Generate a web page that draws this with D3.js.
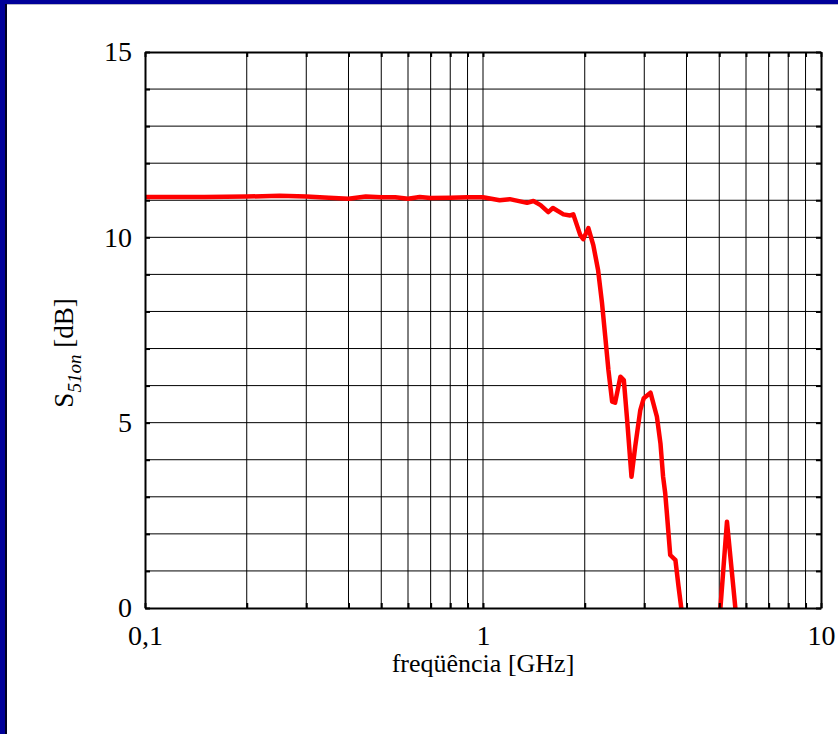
<!DOCTYPE html>
<html>
<head>
<meta charset="utf-8">
<script src="https://cdn.jsdelivr.net/npm/d3@7"></script>
<style>
    html, body { margin: 0; padding: 0; background: #fff; }
    svg { display: block; }
</style>
</head>
<body>
<div id="chart"></div>
<script>
// 频率 (GHz)
const freqGHz = [
    0.1, 0.15, 0.2, 0.25, 0.3, 0.35, 0.4, 0.45, 0.5, 0.55, 0.6, 0.65, 0.7, 0.8, 0.9, 1.0,
    1.12, 1.2, 1.35, 1.41, 1.48, 1.56, 1.61, 1.73, 1.81, 1.85, 1.94, 1.98, 2.05, 2.12,
    2.19, 2.25, 2.30, 2.35, 2.41, 2.46, 2.55, 2.61, 2.67, 2.75, 2.82, 2.92, 2.99, 3.13,
    3.27, 3.35, 3.41, 3.46, 3.50, 3.58, 3.71, 3.79, 3.86, 3.88,
    null,
    5.02, 5.04, 5.27, 5.58, 5.60
];

// S51on (dB)
const s51on = [
    11.09, 11.09, 11.10, 11.12, 11.10, 11.07, 11.04, 11.10, 11.08, 11.08, 11.04, 11.09, 11.06, 11.07, 11.08, 11.08,
    11.00, 11.03, 10.93, 10.98, 10.87, 10.68, 10.79, 10.62, 10.59, 10.62, 10.06, 9.95, 10.25, 9.79,
    9.12, 8.22, 7.32, 6.42, 5.57, 5.54, 6.24, 6.15, 5.07, 3.54, 4.35, 5.34, 5.66, 5.81,
    5.16, 4.44, 3.55, 3.10, 2.55, 1.43, 1.29, 0.57, 0.0, -0.2,
    null,
    -0.2, 0.0, 2.33, 0.0, -0.2
];

// 刻度
const xGridValues = [0.2, 0.3, 0.4, 0.5, 0.6, 0.7, 0.8, 0.9, 1, 2, 3, 4, 5, 6, 7, 8, 9];
const xTickValues = [0.1, 0.2, 0.3, 0.4, 0.5, 0.6, 0.7, 0.8, 0.9, 1, 2, 3, 4, 5, 6, 7, 8, 9, 10];
const xTickLabels = { 0.1: '0,1', 1: '1', 10: '10' };
const yTickValues = d3.range(0, 16);
const yTickLabels = [0, 5, 10, 15];

// 尺寸
const W = 838, H = 734;
const plot = { left: 145, right: 821, top: 52, bottom: 608 };
const FONT = '"Liberation Serif", "Times New Roman", serif';

const svg = d3.select('#chart').append('svg')
    .attr('width', W)
    .attr('height', H);

// 背景和蓝色边框
svg.append('rect').attr('width', W).attr('height', H).attr('fill', '#fff');
svg.append('rect').attr('x', 0).attr('y', 0).attr('width', W).attr('height', 4).attr('fill', '#000099');
svg.append('rect').attr('x', 0).attr('y', 4).attr('width', W).attr('height', 1).attr('fill', '#b8b8c8');
svg.append('rect').attr('x', 0).attr('y', 0).attr('width', 5).attr('height', H).attr('fill', '#000099');
svg.append('rect').attr('x', 5).attr('y', 4).attr('width', 2).attr('height', H).attr('fill', '#000022');

// 比例尺
const x = d3.scaleLog().domain([0.1, 10]).range([plot.left, plot.right]);
const y = d3.scaleLinear().domain([0, 15]).range([plot.bottom, plot.top]);

// 网格线
const grid = svg.append('g').attr('class', 'grid')
    .attr('stroke', '#000').attr('stroke-width', 1);

grid.selectAll('line.v').data(xGridValues).enter().append('line')
    .attr('class', 'v')
    .attr('x1', d => x(d)).attr('x2', d => x(d))
    .attr('y1', plot.top).attr('y2', plot.bottom);

grid.selectAll('line.h').data(yTickValues.slice(1, -1)).enter().append('line')
    .attr('class', 'h')
    .attr('x1', plot.left).attr('x2', plot.right)
    .attr('y1', d => y(d)).attr('y2', d => y(d));

// 曲线
svg.append('clipPath').attr('id', 'plot-clip')
    .append('rect')
    .attr('x', plot.left).attr('y', plot.top)
    .attr('width', plot.right - plot.left).attr('height', plot.bottom - plot.top);

const points = freqGHz.map((f, i) => ({ f, v: s51on[i] }));

const line = d3.line()
    .defined(d => d.f !== null && d.v !== null)
    .x(d => x(d.f))
    .y(d => y(d.v));

svg.append('path')
    .datum(points)
    .attr('clip-path', 'url(#plot-clip)')
    .attr('fill', 'none')
    .attr('stroke', '#ff0000')
    .attr('stroke-width', 4.5)
    .attr('stroke-linejoin', 'round')
    .attr('d', line);

// 坐标轴
function styleAxis(g) {
    g.select('.domain').attr('stroke', '#000').attr('stroke-width', 2);
    g.selectAll('.tick line').attr('stroke', '#000').attr('stroke-width', 2);
    g.selectAll('.tick text')
        .attr('font-family', FONT)
        .attr('font-size', 28)
        .attr('fill', '#000');
}

svg.append('g')
    .attr('transform', `translate(0,${plot.bottom})`)
    .call(d3.axisBottom(x)
        .tickValues(xTickValues)
        .tickSizeInner(-5).tickSizeOuter(0)
        .tickPadding(17)
        .tickFormat(d => xTickLabels[d] || ''))
    .call(styleAxis);

svg.append('g')
    .attr('transform', `translate(0,${plot.top})`)
    .call(d3.axisTop(x)
        .tickValues(xTickValues)
        .tickSizeInner(-5).tickSizeOuter(0)
        .tickFormat(''))
    .call(styleAxis);

svg.append('g')
    .attr('transform', `translate(${plot.left},0)`)
    .call(d3.axisLeft(y)
        .tickValues(yTickValues)
        .tickSizeInner(-5).tickSizeOuter(0)
        .tickPadding(13)
        .tickFormat(d => yTickLabels.includes(d) ? d : ''))
    .call(styleAxis);

svg.append('g')
    .attr('transform', `translate(${plot.right},0)`)
    .call(d3.axisRight(y)
        .tickValues(yTickValues)
        .tickSizeInner(-5).tickSizeOuter(0)
        .tickFormat(''))
    .call(styleAxis);

// 轴标题
svg.append('text')
    .attr('x', (plot.left + plot.right) / 2)
    .attr('y', 672)
    .attr('text-anchor', 'middle')
    .attr('font-family', FONT)
    .attr('font-size', 26)
    .attr('fill', '#000')
    .text('freqüência [GHz]');

const yTitle = svg.append('text')
    .attr('transform', 'translate(73,353) rotate(-90)')
    .attr('text-anchor', 'middle')
    .attr('font-family', FONT)
    .attr('font-size', 27)
    .attr('fill', '#000');

yTitle.append('tspan').text('S');
yTitle.append('tspan')
    .attr('dy', 8)
    .attr('font-size', 19)
    .attr('font-style', 'italic')
    .text('51on');
yTitle.append('tspan')
    .attr('dy', -8)
    .text(' [dB]');
</script>
</body>
</html>
